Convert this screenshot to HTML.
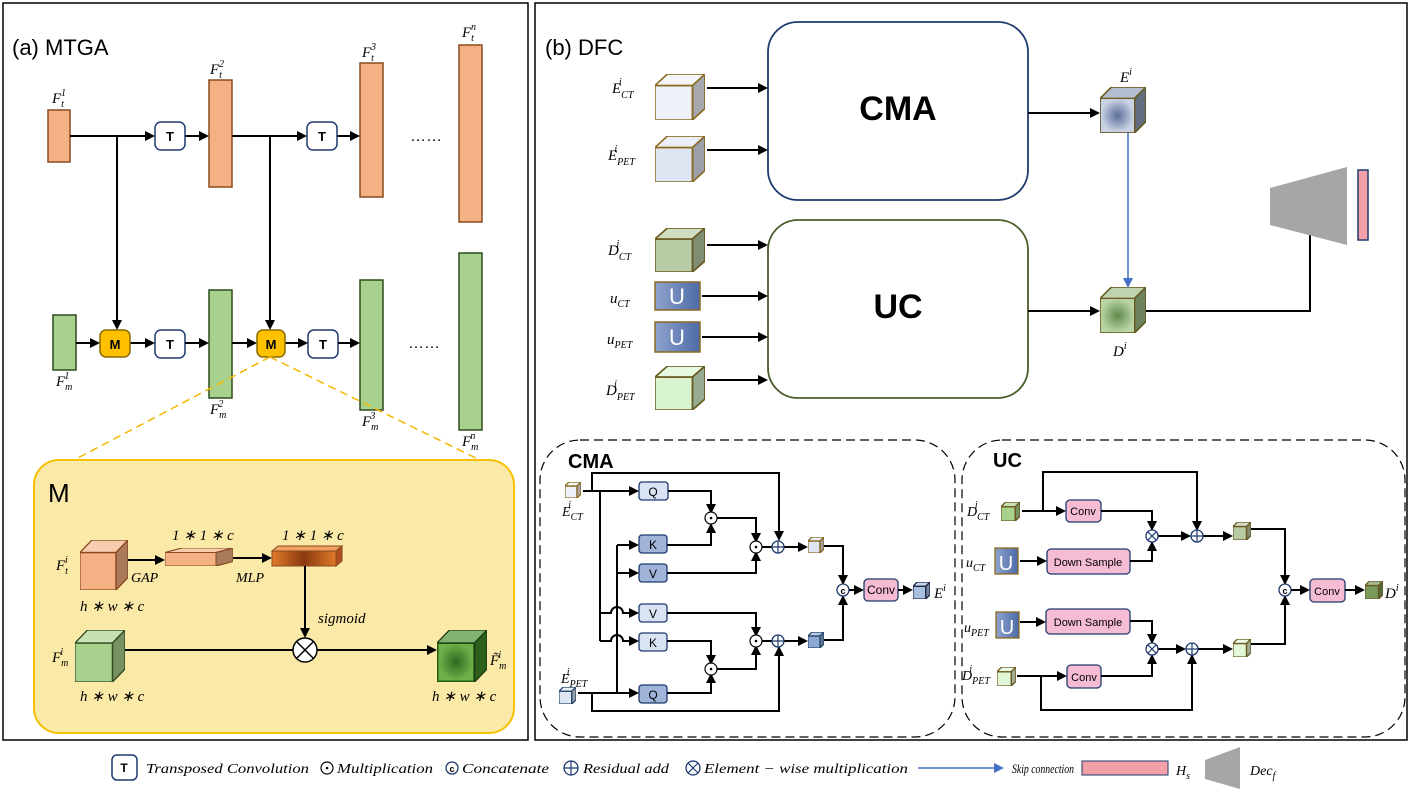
<!DOCTYPE html>
<html><head><meta charset="utf-8"><style>
body{margin:0;background:#fff}
svg{display:block}
text{font-family:"Liberation Sans",sans-serif}
.m,.m text,text.m{font-family:"Liberation Serif",serif;font-style:italic}
.b{font-weight:bold}
.ln{stroke:#000;stroke-width:2;fill:none}
.ar{stroke:#000;stroke-width:2;fill:none;marker-end:url(#ah)}
</style></head><body>
<svg width="1412" height="794" viewBox="0 0 1412 794" xmlns="http://www.w3.org/2000/svg">
<defs>
<marker id="ah" markerWidth="10" markerHeight="10" refX="8" refY="5" orient="auto" markerUnits="userSpaceOnUse"><path d="M0,0 L10,5 L0,10 z" fill="#000"/></marker>
<marker id="ahb" markerWidth="10" markerHeight="10" refX="8" refY="5" orient="auto" markerUnits="userSpaceOnUse"><path d="M0,0 L10,5 L0,10 z" fill="#4472c4"/></marker>
<symbol id="cube" viewBox="0 0 10 10" preserveAspectRatio="none">
<rect x="0" y="2.5" width="7.5" height="7.5" fill="currentColor" vector-effect="non-scaling-stroke"/>
<polygon points="0,2.5 2.5,0 10,0 7.5,2.5" fill="currentColor" vector-effect="non-scaling-stroke"/>
<polygon points="0,2.5 2.5,0 10,0 7.5,2.5" fill="#fff" fill-opacity="0.35" vector-effect="non-scaling-stroke"/>
<polygon points="7.5,2.5 10,0 10,7.5 7.5,10" fill="currentColor" vector-effect="non-scaling-stroke"/>
<polygon points="7.5,2.5 10,0 10,7.5 7.5,10" fill="#000" fill-opacity="0.3" vector-effect="non-scaling-stroke"/>
</symbol>
<radialGradient id="gB"><stop offset="0" stop-color="#5a6f9a"/><stop offset="1" stop-color="#c9d2e3"/></radialGradient>
<radialGradient id="gG"><stop offset="0" stop-color="#5e8a4a"/><stop offset="1" stop-color="#b9d3a4"/></radialGradient>
<radialGradient id="gDG"><stop offset="0" stop-color="#2f6a1e"/><stop offset="1" stop-color="#6fb04a"/></radialGradient>
<linearGradient id="gO" x1="0" x2="1"><stop offset="0" stop-color="#e07a2a"/><stop offset="0.5" stop-color="#8a3a10"/><stop offset="1" stop-color="#e07a2a"/></linearGradient>
<linearGradient id="gU" x1="0" x2="1"><stop offset="0" stop-color="#8fa3cc"/><stop offset="1" stop-color="#4d6aa8"/></linearGradient>
</defs>

<rect x="3" y="3" width="525" height="737" fill="none" stroke="#000" stroke-width="1.5"/>
<rect x="535" y="3" width="872" height="737" fill="none" stroke="#000" stroke-width="1.5"/>

<!-- ===== MTGA ===== -->
<text x="12" y="55" font-size="22">(a) MTGA</text>
<g fill="#f4b183" stroke="#8a4a1e" stroke-width="1.5">
<rect x="48" y="110" width="22" height="52"/>
<rect x="209" y="80" width="23" height="107"/>
<rect x="360" y="63" width="23" height="134"/>
<rect x="459" y="45" width="23" height="177"/>
</g>
<g fill="#a9d18e" stroke="#2e4a1e" stroke-width="1.5">
<rect x="53" y="315" width="23" height="55"/>
<rect x="209" y="290" width="23" height="108"/>
<rect x="360" y="280" width="23" height="130"/>
<rect x="459" y="253" width="23" height="177"/>
</g>
<g class="m" font-size="15">
<text x="52" y="103">F<tspan font-size="10" dy="4">t</tspan><tspan font-size="10" dx="-3" dy="-11">1</tspan></text>
<text x="210" y="74">F<tspan font-size="10" dy="4">t</tspan><tspan font-size="10" dx="-3" dy="-11">2</tspan></text>
<text x="362" y="57">F<tspan font-size="10" dy="4">t</tspan><tspan font-size="10" dx="-3" dy="-11">3</tspan></text>
<text x="462" y="37">F<tspan font-size="10" dy="4">t</tspan><tspan font-size="10" dx="-3" dy="-11">n</tspan></text>
<text x="56" y="386">F<tspan font-size="10" dy="4">m</tspan><tspan font-size="10" dx="-8" dy="-11">1</tspan></text>
<text x="210" y="414">F<tspan font-size="10" dy="4">m</tspan><tspan font-size="10" dx="-8" dy="-11">2</tspan></text>
<text x="362" y="426">F<tspan font-size="10" dy="4">m</tspan><tspan font-size="10" dx="-8" dy="-11">3</tspan></text>
<text x="462" y="446">F<tspan font-size="10" dy="4">m</tspan><tspan font-size="10" dx="-8" dy="-11">n</tspan></text>
</g>
<path class="ar" d="M70,136 H153"/>
<path class="ar" d="M185,136 H207"/>
<path class="ar" d="M232,136 H305"/>
<path class="ar" d="M337,136 H358"/>
<path class="ar" d="M117,136 V328"/>
<path class="ar" d="M270,136 V328"/>
<g fill="#fff" stroke="#1f3a6e" stroke-width="1.5">
<rect x="155" y="122" width="30" height="28" rx="6"/>
<rect x="307" y="122" width="30" height="28" rx="6"/>
<rect x="155" y="330" width="30" height="28" rx="6"/>
<rect x="308" y="330" width="30" height="28" rx="6"/>
</g>
<g font-size="13" class="b" text-anchor="middle">
<text x="170" y="141">T</text><text x="322" y="141">T</text>
<text x="170" y="349">T</text><text x="323" y="349">T</text>
</g>
<text x="410" y="141" font-size="16">……</text>
<text x="408" y="348" font-size="16">……</text>
<path class="ar" d="M76,343 H98"/>
<path class="ar" d="M130,343 H153"/>
<path class="ar" d="M185,343 H207"/>
<path class="ar" d="M232,343 H255"/>
<path class="ar" d="M285,343 H306"/>
<path class="ar" d="M338,343 H358"/>
<g fill="#ffc000" stroke="#8a6a00" stroke-width="1.5">
<rect x="100" y="330" width="30" height="27" rx="6"/>
<rect x="257" y="330" width="28" height="27" rx="6"/>
</g>
<text x="115" y="349" font-size="13" class="b" text-anchor="middle">M</text>
<text x="271" y="349" font-size="13" class="b" text-anchor="middle">M</text>
<path d="M270,357 L55,470 M270,357 L490,465" stroke="#f5b800" stroke-width="1.5" stroke-dasharray="8,5" fill="none"/>
<rect x="34" y="460" width="480" height="273" rx="25" fill="#fbe9a8" stroke="#f5c000" stroke-width="2"/>
<text x="48" y="502" font-size="26">M</text>
<use href="#cube" x="80" y="540" width="48" height="50" style="color:#f4b183;stroke:#8a4a1e;stroke-width:1.2"/>
<text class="m" x="56" y="570" font-size="15">F<tspan font-size="10" dy="4">t</tspan><tspan font-size="10" dx="-3" dy="-11">i</tspan></text>
<text class="m" x="80" y="611" font-size="15">h ∗ w ∗ c</text>
<path class="ar" d="M128,560 H163"/>
<text class="m" x="131" y="582" font-size="14">GAP</text>
<use href="#cube" x="165" y="548" width="68" height="18" style="color:#f4b183;stroke:#8a4a1e;stroke-width:1"/>
<text class="m" x="172" y="540" font-size="15">1 ∗ 1 ∗ c</text>
<path class="ar" d="M233,558 H270"/>
<text class="m" x="236" y="582" font-size="14">MLP</text>
<rect x="272" y="551" width="64" height="15" fill="url(#gO)" stroke="#8a4a1e"/>
<polygon points="272,551 278,546 342,546 336,551" fill="#f0a060" stroke="#8a4a1e"/>
<polygon points="336,551 342,546 342,561 336,566" fill="#b05020" stroke="#8a4a1e"/>
<text class="m" x="282" y="540" font-size="15">1 ∗ 1 ∗ c</text>
<path class="ar" d="M305,566 V636"/>
<text class="m" x="318" y="623" font-size="15">sigmoid</text>
<circle cx="305" cy="650" r="12" fill="#fff" stroke="#000" stroke-width="1.5"/>
<path d="M297,642 L313,658 M313,642 L297,658" stroke="#000" stroke-width="1.5"/>
<use href="#cube" x="75" y="630" width="50" height="52" style="color:#a9d18e;stroke:#2e4a1e;stroke-width:1.2"/>
<text class="m" x="52" y="662" font-size="15">F<tspan font-size="10" dy="4">m</tspan><tspan font-size="10" dx="-8" dy="-11">i</tspan></text>
<text class="m" x="80" y="701" font-size="15">h ∗ w ∗ c</text>
<path class="ln" d="M125,650 H293"/>
<path class="ar" d="M317,650 H435"/>
<use href="#cube" x="437" y="630" width="50" height="52" style="color:#3f8a28;stroke:#1e3a10;stroke-width:1.2"/>
<rect x="439" y="644" width="34" height="36" fill="url(#gDG)"/>
<text class="m" x="490" y="665" font-size="15">F̃<tspan font-size="10" dy="4">m</tspan><tspan font-size="10" dx="-8" dy="-11">i</tspan></text>
<text class="m" x="432" y="701" font-size="15">h ∗ w ∗ c</text>

<!-- ===== DFC ===== -->
<text x="545" y="55" font-size="22">(b) DFC</text>
<rect x="768" y="22" width="260" height="178" rx="30" fill="#fff" stroke="#1f3a6e" stroke-width="1.8"/>
<text x="898" y="120" font-size="34" class="b" text-anchor="middle">CMA</text>
<rect x="768" y="220" width="260" height="178" rx="30" fill="#fff" stroke="#4a5e2a" stroke-width="1.8"/>
<text x="898" y="318" font-size="34" class="b" text-anchor="middle">UC</text>
<use href="#cube" x="655" y="74" width="50" height="46" style="color:#eef1f8;stroke:#8a6a20;stroke-width:1.5"/>
<use href="#cube" x="655" y="136" width="50" height="46" style="color:#dfe6f3;stroke:#8a6a20;stroke-width:1.5"/>
<use href="#cube" x="655" y="228" width="50" height="44" style="color:#b7cba4;stroke:#6a5a20;stroke-width:1.5"/>
<use href="#cube" x="655" y="366" width="50" height="44" style="color:#d8f5d0;stroke:#6a5a20;stroke-width:1.5"/>
<rect x="655" y="282" width="45" height="28" fill="url(#gU)" stroke="#8a6a20" stroke-width="1.5"/>
<rect x="655" y="322" width="45" height="30" fill="url(#gU)" stroke="#8a6a20" stroke-width="1.5"/>
<text x="677" y="304" font-size="22" fill="#fff" text-anchor="middle">U</text>
<text x="677" y="345" font-size="22" fill="#fff" text-anchor="middle">U</text>
<g class="m" font-size="15">
<text x="612" y="93">E<tspan font-size="10" dy="5">CT</tspan><tspan font-size="10" dx="-14" dy="-13">i</tspan></text>
<text x="608" y="160">E<tspan font-size="10" dy="5">PET</tspan><tspan font-size="10" dx="-20" dy="-13">i</tspan></text>
<text x="608" y="255">D<tspan font-size="10" dy="5">CT</tspan><tspan font-size="10" dx="-14" dy="-13">i</tspan></text>
<text x="610" y="303">u<tspan font-size="10" dy="4">CT</tspan></text>
<text x="607" y="344">u<tspan font-size="10" dy="4">PET</tspan></text>
<text x="606" y="395">D<tspan font-size="10" dy="5">PET</tspan><tspan font-size="10" dx="-20" dy="-13">i</tspan></text>
<text x="1120" y="82">E<tspan font-size="10" dy="-7">i</tspan></text>
<text x="1113" y="356">D<tspan font-size="10" dy="-7">i</tspan></text>
</g>
<path class="ar" d="M707,88 H766"/><path class="ar" d="M707,150 H766"/>
<path class="ar" d="M707,245 H766"/><path class="ar" d="M702,296 H766"/>
<path class="ar" d="M702,337 H766"/><path class="ar" d="M707,380 H766"/>
<path class="ar" d="M1028,113 H1098"/>
<path class="ar" d="M1028,311 H1098"/>
<use href="#cube" x="1100" y="87" width="46" height="46" style="color:#8e9cb8;stroke:#6a5a20;stroke-width:1.5"/>
<rect x="1101" y="99" width="33" height="33" fill="url(#gB)"/>
<use href="#cube" x="1100" y="287" width="46" height="46" style="color:#9cbc86;stroke:#6a5a20;stroke-width:1.5"/>
<rect x="1101" y="299" width="33" height="33" fill="url(#gG)"/>
<path d="M1128,133 V286" stroke="#4472c4" stroke-width="1.5" fill="none" marker-end="url(#ahb)"/>
<path class="ar" d="M1146,311 H1310 V212"/>
<polygon points="1270,188 1347,167 1347,245 1270,225" fill="#a6a6a6"/>
<rect x="1358" y="170" width="10" height="70" fill="#f4a0a8" stroke="#1f3a6e" stroke-width="1.5"/>

<!-- CMA detail -->
<rect x="540" y="440" width="415" height="297" rx="40" fill="none" stroke="#000" stroke-width="1.2" stroke-dasharray="9,5"/>
<text x="568" y="468" font-size="20" class="b">CMA</text>
<use href="#cube" x="565" y="482" width="16" height="16" style="color:#eef1f8;stroke:#8a6a20;stroke-width:1.2"/>
<use href="#cube" x="559" y="687" width="17" height="17" style="color:#dfe6f3;stroke:#2a4a6e;stroke-width:1.2"/>
<text class="m" x="562" y="516" font-size="14">E<tspan font-size="10" dy="4">CT</tspan><tspan font-size="10" dx="-14" dy="-12">i</tspan></text>
<text class="m" x="561" y="683" font-size="14">E<tspan font-size="10" dy="4">PET</tspan><tspan font-size="10" dx="-20" dy="-12">i</tspan></text>
<g stroke="#1f3a6e" stroke-width="1.3">
<rect x="639" y="482" width="29" height="18" rx="3" fill="#dae3f3"/>
<rect x="639" y="535" width="28" height="18" rx="3" fill="#9fb4d8"/>
<rect x="639" y="564" width="28" height="18" rx="3" fill="#9fb4d8"/>
<rect x="639" y="604" width="28" height="18" rx="3" fill="#dae3f3"/>
<rect x="639" y="633" width="28" height="18" rx="3" fill="#dae3f3"/>
<rect x="639" y="685" width="28" height="18" rx="3" fill="#9fb4d8"/>
</g>
<g font-size="12" text-anchor="middle">
<text x="653" y="496">Q</text><text x="653" y="549">K</text><text x="653" y="578">V</text>
<text x="653" y="618">V</text><text x="653" y="647">K</text><text x="653" y="699">Q</text>
</g>
<path class="ar" d="M583,491 H637"/>
<path class="ar" d="M592,491 V473 H779 V539"/>
<path class="ln" d="M600,491 V641"/>
<path class="ar" d="M600,613 H611 a6,6 0 0 1 12,0 H637"/>
<path class="ar" d="M600,641 H611 a6,6 0 0 1 12,0 H637"/>
<path class="ar" d="M578,693 H637"/>
<path class="ar" d="M592,693 V711 H779 V648"/>
<path class="ln" d="M617,693 V545"/>
<path class="ar" d="M617,545 H637"/><path class="ar" d="M617,573 H637"/>
<path class="ar" d="M668,491 H711 V512"/>
<path class="ar" d="M667,545 H711 V525"/>
<path class="ar" d="M717,518 H756 V541"/>
<path class="ar" d="M667,573 H756 V553"/>
<path class="ar" d="M784,547 H806"/>
<path class="ar" d="M667,613 H756 V635"/>
<path class="ar" d="M667,641 H711 V663"/>
<path class="ar" d="M667,693 H711 V675"/>
<path class="ar" d="M717,669 H756 V647"/>
<path class="ar" d="M784,641 H806"/>
<path class="ln" d="M762,547 H772 M762,641 H772"/>
<g fill="#fff" stroke="#000" stroke-width="1.2">
<circle cx="711" cy="518" r="6"/><circle cx="756" cy="547" r="6"/>
<circle cx="711" cy="669" r="6"/><circle cx="756" cy="641" r="6"/>
</g>
<g fill="#000"><circle cx="711" cy="518" r="1.3"/><circle cx="756" cy="547" r="1.3"/><circle cx="711" cy="669" r="1.3"/><circle cx="756" cy="641" r="1.3"/></g>
<g fill="#fff" stroke="#1f3a6e" stroke-width="1.3">
<circle cx="778" cy="547" r="6"/><circle cx="778" cy="641" r="6"/>
</g>
<path d="M772,547 H784 M778,541 V553 M772,641 H784 M778,635 V647" stroke="#1f3a6e" stroke-width="1.2"/>
<use href="#cube" x="808" y="537" width="16" height="16" style="color:#dfe6f3;stroke:#8a6a20;stroke-width:1.2"/>
<use href="#cube" x="808" y="632" width="16" height="16" style="color:#8ea9d4;stroke:#2a4a6e;stroke-width:1.2"/>
<path class="ar" d="M824,546 H843 V583"/>
<path class="ar" d="M824,640 H843 V597"/>
<circle cx="843" cy="590" r="6" fill="#fff" stroke="#1f3a6e" stroke-width="1.3"/>
<text x="843" y="594" font-size="9" class="b" text-anchor="middle">c</text>
<path class="ar" d="M849,590 H862"/>
<rect x="864" y="579" width="34" height="22" rx="4" fill="#f6bcd4" stroke="#1f3a6e" stroke-width="1.3"/>
<text x="881" y="594" font-size="12" text-anchor="middle">Conv</text>
<path class="ar" d="M898,590 H911"/>
<use href="#cube" x="913" y="582" width="17" height="17" style="color:#a9bfe0;stroke:#1e2a4a;stroke-width:1.2"/>
<text class="m" x="934" y="598" font-size="15">E<tspan font-size="10" dy="-7">i</tspan></text>

<!-- UC detail -->
<rect x="962" y="440" width="443" height="297" rx="40" fill="none" stroke="#000" stroke-width="1.2" stroke-dasharray="9,5"/>
<text x="993" y="467" font-size="20" class="b">UC</text>
<g class="m" font-size="14">
<text x="967" y="516">D<tspan font-size="10" dy="4">CT</tspan><tspan font-size="10" dx="-14" dy="-12">i</tspan></text>
<text x="966" y="567">u<tspan font-size="10" dy="4">CT</tspan></text>
<text x="964" y="632">u<tspan font-size="10" dy="4">PET</tspan></text>
<text x="962" y="680">D<tspan font-size="10" dy="4">PET</tspan><tspan font-size="10" dx="-20" dy="-12">i</tspan></text>
</g>
<use href="#cube" x="1001" y="502" width="19" height="19" style="color:#a9d18e;stroke:#6a5a20;stroke-width:1.2"/>
<use href="#cube" x="997" y="667" width="19" height="19" style="color:#e2f7d8;stroke:#6a5a20;stroke-width:1.2"/>
<rect x="995" y="548" width="23" height="26" fill="url(#gU)" stroke="#8a6a20" stroke-width="1.3"/>
<rect x="996" y="612" width="23" height="26" fill="url(#gU)" stroke="#8a6a20" stroke-width="1.3"/>
<text x="1006" y="570" font-size="20" fill="#fff" text-anchor="middle">U</text>
<text x="1007" y="634" font-size="20" fill="#fff" text-anchor="middle">U</text>
<g fill="#f6bcd4" stroke="#1f3a6e" stroke-width="1.3">
<rect x="1066" y="500" width="35" height="22" rx="4"/>
<rect x="1047" y="549" width="83" height="25" rx="4"/>
<rect x="1046" y="609" width="84" height="25" rx="4"/>
<rect x="1067" y="665" width="34" height="23" rx="4"/>
<rect x="1310" y="579" width="35" height="23" rx="4"/>
</g>
<g font-size="11" text-anchor="middle">
<text x="1083" y="515">Conv</text><text x="1088" y="566">Down Sample</text>
<text x="1088" y="626">Down Sample</text><text x="1084" y="681">Conv</text><text x="1327" y="595">Conv</text>
</g>
<path class="ar" d="M1022,511 H1064"/>
<path class="ar" d="M1043,511 V472 H1197 V529"/>
<path class="ar" d="M1101,511 H1152 V529"/>
<path class="ar" d="M1020,561 H1045"/>
<path class="ar" d="M1130,561 H1152 V543"/>
<path class="ar" d="M1158,536 H1189"/>
<path class="ar" d="M1203,536 H1231"/>
<use href="#cube" x="1233" y="522" width="18" height="18" style="color:#b7cba4;stroke:#6a5a20;stroke-width:1.2"/>
<path class="ar" d="M1251,529 H1285 V583"/>
<path class="ar" d="M1020,622 H1044"/>
<path class="ar" d="M1130,621 H1152 V642"/>
<path class="ar" d="M1017,676 H1065"/>
<path class="ar" d="M1101,676 H1152 V656"/>
<path class="ar" d="M1041,676 V710 H1192 V656"/>
<path class="ar" d="M1158,649 H1184"/>
<path class="ar" d="M1198,649 H1231"/>
<use href="#cube" x="1233" y="639" width="18" height="18" style="color:#e2f7d8;stroke:#6a5a20;stroke-width:1.2"/>
<path class="ar" d="M1251,644 H1285 V597"/>
<g fill="#fff" stroke="#1f3a6e" stroke-width="1.3">
<circle cx="1152" cy="536" r="6"/><circle cx="1152" cy="649" r="6"/>
<circle cx="1197" cy="536" r="6"/><circle cx="1192" cy="649" r="6"/>
<circle cx="1285" cy="590" r="6"/>
</g>
<path d="M1148,532 L1156,540 M1156,532 L1148,540 M1148,645 L1156,653 M1156,645 L1148,653 M1191,536 H1203 M1197,530 V542 M1186,649 H1198 M1192,643 V655" stroke="#1f3a6e" stroke-width="1.2"/>
<text x="1285" y="594" font-size="9" class="b" text-anchor="middle">c</text>
<path class="ar" d="M1291,590 H1308"/>
<path class="ar" d="M1345,590 H1363"/>
<use href="#cube" x="1365" y="581" width="18" height="18" style="color:#7a9a5a;stroke:#6a5a20;stroke-width:1.2"/>
<text class="m" x="1385" y="598" font-size="15">D<tspan font-size="10" dy="-7">i</tspan></text>

<!-- legend -->
<rect x="112" y="755" width="25" height="25" rx="5" fill="#fff" stroke="#1f3a6e" stroke-width="1.5"/>
<text x="124" y="772" font-size="12" class="b" text-anchor="middle">T</text>
<g class="m" font-size="14">
<text x="146" y="773" textLength="163" lengthAdjust="spacingAndGlyphs">Transposed Convolution</text>
<text x="337" y="773" textLength="96" lengthAdjust="spacingAndGlyphs">Multiplication</text>
<text x="462" y="773" textLength="87" lengthAdjust="spacingAndGlyphs">Concatenate</text>
<text x="583" y="773" textLength="86" lengthAdjust="spacingAndGlyphs">Residual add</text>
<text x="704" y="773" textLength="204" lengthAdjust="spacingAndGlyphs">Element − wise multiplication</text>
<text x="1012" y="773" font-size="13" textLength="62" lengthAdjust="spacingAndGlyphs">Skip connection</text>
<text x="1176" y="775">H<tspan font-size="10" dy="4">s</tspan></text>
<text x="1250" y="775">Dec<tspan font-size="10" dy="4">f</tspan></text>
</g>
<circle cx="327" cy="768" r="6" fill="#fff" stroke="#000" stroke-width="1.2"/><circle cx="327" cy="768" r="1.3"/>
<circle cx="452" cy="768" r="6" fill="#fff" stroke="#1f3a6e" stroke-width="1.3"/>
<text x="452" y="772" font-size="9" class="b" text-anchor="middle">c</text>
<circle cx="571" cy="768" r="7" fill="#fff" stroke="#1f3a6e" stroke-width="1.3"/>
<path d="M564,768 H578 M571,761 V775" stroke="#1f3a6e" stroke-width="1.2"/>
<circle cx="693" cy="768" r="7" fill="#fff" stroke="#1f3a6e" stroke-width="1.3"/>
<path d="M688,763 L698,773 M698,763 L688,773" stroke="#1f3a6e" stroke-width="1.2"/>
<path d="M918,768 H1002" stroke="#4472c4" stroke-width="1.5" marker-end="url(#ahb)"/>
<rect x="1082" y="761" width="86" height="14" fill="#f4a0a8" stroke="#1f3a6e" stroke-width="1"/>
<polygon points="1205,760 1240,747 1240,789 1205,779" fill="#a6a6a6"/>
</svg>
</body></html>
